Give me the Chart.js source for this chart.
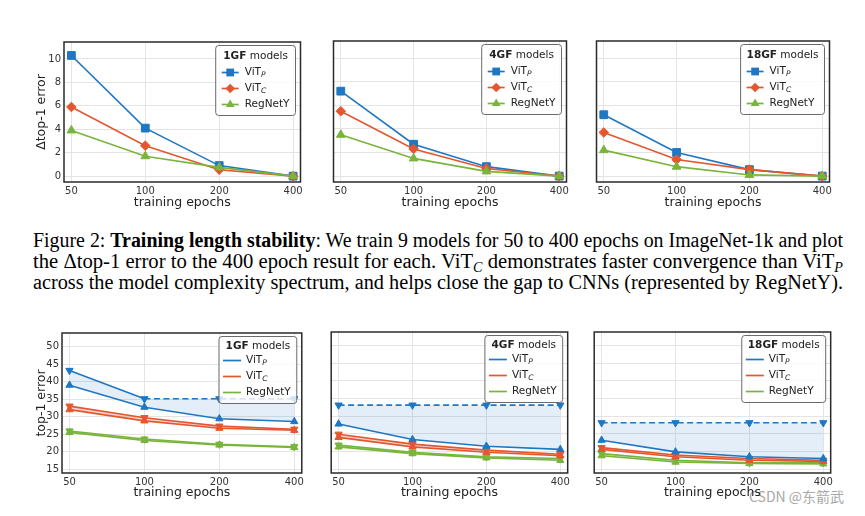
<!DOCTYPE html>
<html>
<head>
<meta charset="utf-8">
<script src="https://cdn.jsdelivr.net/npm/chart.js@4.4.0/dist/chart.umd.min.js"></script>
<style>
  html, body { margin: 0; padding: 0; background: #fff; }
  body { width: 865px; height: 516px; position: relative; overflow: hidden; }
  canvas { position: absolute; }
  .cap { position: absolute; left: 33px; font-family: 'Liberation Serif', 'Times New Roman', serif;
         font-size: 20.5px; line-height: 21px; color: #000; white-space: nowrap; transform-origin: 0 50%; }
  .cap .s { font-style: italic; font-size: 14px; position: relative; top: 4px; }
  #mark { position: absolute; left: 749px; top: 486px; font-family: 'Noto Sans CJK SC', 'DejaVu Sans', sans-serif;
          font-size: 14px; color: #a8a8a8; white-space: nowrap; }
</style>
</head>
<body>
<div class="cap" style="top:230px">Figure 2: <b>Training length stability</b>: We train 9 models for 50 to 400 epochs on ImageNet-1k and plot</div>
<div class="cap" style="top:251px">the Δtop-1 error to the 400 epoch result for each. ViT<span class="s">C</span> demonstrates faster convergence than ViT<span class="s">P</span></div>
<div class="cap" style="top:272px">across the model complexity spectrum, and helps close the gap to CNNs (represented by RegNetY).</div>
<div id="mark">CSDN @东箭武</div>
<script>
// ---- data ----
const epochs = ['50', '100', '200', '400'];
const deltaTicks = [0, 2, 4, 6, 8, 10];
const errTicks = [15, 20, 25, 30, 35, 40, 45, 50];

// top row: Δtop-1 error to the 400 epoch result
const d1gfVitP = [10.3, 4.1, 0.9, 0.0];
const d1gfVitC = [5.9, 2.6, 0.55, 0.0];
const d1gfRegNet = [3.9, 1.7, 0.75, 0.0];
const d4gfVitP = [7.2, 2.7, 0.8, 0.0];
const d4gfVitC = [5.5, 2.3, 0.65, 0.0];
const d4gfRegNet = [3.5, 1.5, 0.4, 0.0];
const d18gfVitP = [5.2, 2.0, 0.55, 0.0];
const d18gfVitC = [3.7, 1.4, 0.55, 0.0];
const d18gfRegNet = [2.2, 0.8, 0.1, 0.0];

// bottom row: top-1 error, upper / lower curves
const e1gfVitPHi = [43.2, 35.1, 35.1, 35.1];
const e1gfVitPLo = [39.0, 32.7, 29.4, 28.6];
const e1gfVitCHi = [33.0, 29.7, 27.3, 26.4];
const e1gfVitCLo = [32.0, 28.8, 26.7, 26.1];
const e1gfRegNetHi = [25.9, 23.6, 22.1, 21.4];
const e1gfRegNetLo = [25.5, 23.2, 21.9, 21.2];

const e4gfVitPHi = [33.15, 33.15, 33.15, 33.15];
const e4gfVitPLo = [27.8, 23.4, 21.5, 20.6];
const e4gfVitCHi = [24.9, 22.1, 20.4, 19.2];
const e4gfVitCLo = [24.0, 21.3, 19.8, 18.8];
const e4gfRegNetHi = [21.8, 19.8, 18.5, 18.0];
const e4gfRegNetLo = [21.3, 19.4, 18.2, 17.5];

const e18gfVitPHi = [28.15, 28.15, 28.15, 28.15];
const e18gfVitPLo = [23.2, 19.9, 18.5, 18.0];
const e18gfVitCHi = [21.1, 19.0, 18.0, 17.5];
const e18gfVitCLo = [20.6, 18.5, 17.5, 17.2];
const e18gfRegNetHi = [19.4, 17.5, 16.8, 16.8];
const e18gfRegNetLo = [18.8, 17.0, 16.6, 16.5];

// ---- drawing ----
const FAM = '"DejaVu Sans", sans-serif';
const COL = { vitP: '#1f77c4', vitC: '#e4572e', reg: '#79b43d' };
const FILL = { vitP: 'rgba(31,119,196,0.12)', vitC: 'rgba(228,87,46,0.25)', reg: 'rgba(121,180,61,0.35)' };

function pts(arr) { return arr.map((v, i) => ({ x: i, y: v })); }

function rrect(ctx, x, y, w, h, r) {
  ctx.beginPath();
  ctx.moveTo(x + r, y);
  ctx.lineTo(x + w - r, y); ctx.quadraticCurveTo(x + w, y, x + w, y + r);
  ctx.lineTo(x + w, y + h - r); ctx.quadraticCurveTo(x + w, y + h, x + w - r, y + h);
  ctx.lineTo(x + r, y + h); ctx.quadraticCurveTo(x, y + h, x, y + h - r);
  ctx.lineTo(x, y + r); ctx.quadraticCurveTo(x, y, x + r, y);
  ctx.closePath();
}

function marker(ctx, style, x, y, r) {
  ctx.beginPath();
  if (style === 'rect') {
    const s = r * Math.SQRT1_2;
    ctx.rect(x - s, y - s, 2 * s, 2 * s);
  } else if (style === 'rectRot') {
    ctx.moveTo(x, y - r); ctx.lineTo(x + r, y); ctx.lineTo(x, y + r); ctx.lineTo(x - r, y); ctx.closePath();
  } else {
    for (let k = 0; k < 3; k++) {
      const a = k * 2 * Math.PI / 3;
      const px = x + Math.sin(a) * r, py = y - Math.cos(a) * r;
      k ? ctx.lineTo(px, py) : ctx.moveTo(px, py);
    }
    ctx.closePath();
  }
  ctx.fill();
}

const boxLegend = {
  id: 'boxLegend',
  afterDraw(chart, args, o) {
    const ctx = chart.ctx, a = chart.chartArea;
    ctx.save();
    ctx.strokeStyle = '#2a2a2a'; ctx.lineWidth = 1.5;
    ctx.strokeRect(a.left, a.top, a.right - a.left, a.bottom - a.top);

    const fs = 10.5;
    ctx.font = `bold ${fs}px ${FAM}`;
    const wb = ctx.measureText(o.title).width;
    ctx.font = `${fs}px ${FAM}`;
    const wr = ctx.measureText(' models').width;
    let we = 0;
    o.entries.forEach(e => {
      ctx.font = `${fs}px ${FAM}`;
      let w = ctx.measureText(e.label).width;
      if (e.sub) { ctx.font = `italic ${fs * 0.72}px ${FAM}`; w += ctx.measureText(e.sub).width; }
      we = Math.max(we, w);
    });
    const W = Math.max(wb + wr + 12, o.textX + we + 6);
    const x0 = a.right - 5 - W, y0 = a.top + 3.5;
    rrect(ctx, x0, y0, W, o.height, 3);
    ctx.fillStyle = 'rgba(255,255,255,0.8)'; ctx.fill();
    ctx.strokeStyle = '#6a6a6a'; ctx.lineWidth = 1; ctx.stroke();

    ctx.textBaseline = 'middle'; ctx.textAlign = 'left'; ctx.fillStyle = '#222';
    const tx = x0 + (W - wb - wr) / 2, ty = y0 + o.titleY;
    ctx.font = `bold ${fs}px ${FAM}`; ctx.fillText(o.title, tx, ty);
    ctx.font = `${fs}px ${FAM}`; ctx.fillText(' models', tx + wb, ty);

    o.entries.forEach((e, i) => {
      const y = y0 + o.rowY[i];
      ctx.strokeStyle = e.color; ctx.lineWidth = 1.7;
      ctx.beginPath(); ctx.moveTo(x0 + o.lineX[0], y); ctx.lineTo(x0 + o.lineX[1], y); ctx.stroke();
      if (e.style) {
        ctx.fillStyle = e.color;
        marker(ctx, e.style, x0 + (o.lineX[0] + o.lineX[1]) / 2, y, e.r);
      }
      ctx.fillStyle = '#222';
      ctx.font = `${fs}px ${FAM}`;
      ctx.fillText(e.label, x0 + o.textX, y);
      if (e.sub) {
        const lw = ctx.measureText(e.label).width;
        ctx.font = `italic ${fs * 0.72}px ${FAM}`;
        ctx.fillText(e.sub, x0 + o.textX + lw, y + 3);
      }
    });
    ctx.restore();
  }
};

function makePanel(p) {
  const yW = p.showY ? p.left : 0;
  const padT = 8, padR = 4;
  const w = yW + (p.right - p.left) + padR;
  const h = padT + (p.bottom - p.top) + p.xH;
  const cv = document.createElement('canvas');
  cv.width = w; cv.height = h;
  cv.style.left = (p.left - yW) + 'px';
  cv.style.top = (p.top - padT) + 'px';
  cv.style.width = w + 'px'; cv.style.height = h + 'px';
  document.body.appendChild(cv);

  new Chart(cv, {
    type: 'line',
    data: { datasets: p.datasets },
    options: {
      responsive: false,
      animation: false,
      events: [],
      layout: { padding: { top: padT, right: padR, left: 0, bottom: 0 } },
      plugins: { legend: { display: false }, tooltip: { enabled: false }, boxLegend: p.legend },
      scales: {
        x: {
          type: 'linear', min: -0.1, max: 3.1,
          afterBuildTicks: s => { s.ticks = epochs.map((_, i) => ({ value: i })); },
          afterFit: s => { s.height = p.xH; },
          ticks: { callback: v => epochs[v], font: { family: FAM, size: 10 }, color: '#333',
                   padding: 3, maxRotation: 0, autoSkip: false },
          grid: { color: '#e4e4e4', drawTicks: false },
          border: { display: false },
          title: { display: true, text: 'training epochs', font: { family: FAM, size: 12.5 },
                   color: '#222', padding: 0 }
        },
        y: {
          type: 'linear', min: p.yMin, max: p.yMax,
          afterBuildTicks: s => { s.ticks = p.yTicks.map(v => ({ value: v })); },
          afterFit: s => { s.width = yW; },
          ticks: { display: p.showY, font: { family: FAM, size: 10 }, color: '#333', padding: 3 },
          grid: { color: '#e4e4e4', drawTicks: false },
          border: { display: false },
          title: { display: p.showY, text: p.yTitle, font: { family: FAM, size: 12.5 },
                   color: '#222', padding: { top: 34.5, bottom: 0 } }
        }
      }
    },
    plugins: [boxLegend]
  });
}

function topSets(vp, vc, rg) {
  const base = { borderWidth: 1.6, fill: false, pointBorderWidth: 1 };
  return [
    Object.assign({ data: pts(vp), borderColor: COL.vitP, pointBackgroundColor: COL.vitP,
      pointBorderColor: COL.vitP, pointStyle: 'rect', pointRadius: 5.5, order: 2 }, base),
    Object.assign({ data: pts(vc), borderColor: COL.vitC, pointBackgroundColor: COL.vitC,
      pointBorderColor: COL.vitC, pointStyle: 'rectRot', pointRadius: 4.8, order: 1 }, base),
    Object.assign({ data: pts(rg), borderColor: COL.reg, pointBackgroundColor: COL.reg,
      pointBorderColor: COL.reg, pointStyle: 'triangle', pointRadius: 5, order: 0 }, base)
  ];
}

function pairSets(hi, lo, key, dashFlat) {
  const c = COL[key];
  const hiSet = { data: pts(hi), borderColor: c, borderWidth: 1.6, fill: false,
    pointStyle: 'triangle', pointRotation: 180, pointRadius: 4.2,
    pointBackgroundColor: c, pointBorderColor: c, pointBorderWidth: 1 };
  if (dashFlat) {
    hiSet.segment = { borderDash: s => s.p0.parsed.y === s.p1.parsed.y ? [6, 3.5] : undefined };
  }
  const loSet = { data: pts(lo), borderColor: c, borderWidth: 1.6, fill: '-1', backgroundColor: FILL[key],
    pointStyle: 'triangle', pointRadius: 4.2,
    pointBackgroundColor: c, pointBorderColor: c, pointBorderWidth: 1 };
  return [hiSet, loSet];
}

function legendFor(gf, top) {
  const entries = [
    { label: 'ViT', sub: 'P', color: COL.vitP, style: top ? 'rect' : null, r: 5.5 },
    { label: 'ViT', sub: 'C', color: COL.vitC, style: top ? 'rectRot' : null, r: 4.8 },
    { label: 'RegNetY', color: COL.reg, style: top ? 'triangle' : null, r: 5 }
  ];
  return top
    ? { title: gf, entries, height: 70, titleY: 10.5, rowY: [27, 43, 59], lineX: [6, 23], textX: 29 }
    : { title: gf, entries, height: 67, titleY: 9.5, rowY: [24, 40, 56], lineX: [4, 22], textX: 27 };
}

const topX = [[64, 303], [327, 569], [590, 832]];
const botX = [[62, 303], [326, 569], [589, 832]];
const topData = [
  ['1GF', d1gfVitP, d1gfVitC, d1gfRegNet],
  ['4GF', d4gfVitP, d4gfVitC, d4gfRegNet],
  ['18GF', d18gfVitP, d18gfVitC, d18gfRegNet]
];
const botData = [
  ['1GF', e1gfVitPHi, e1gfVitPLo, e1gfVitCHi, e1gfVitCLo, e1gfRegNetHi, e1gfRegNetLo],
  ['4GF', e4gfVitPHi, e4gfVitPLo, e4gfVitCHi, e4gfVitCLo, e4gfRegNetHi, e4gfRegNetLo],
  ['18GF', e18gfVitPHi, e18gfVitPLo, e18gfVitCHi, e18gfVitCLo, e18gfRegNetHi, e18gfRegNetLo]
];

topData.forEach((d, i) => {
  makePanel({
    left: topX[i][0], right: topX[i][1], top: 41, bottom: 182, xH: 28,
    showY: i === 0, yMin: -0.5, yMax: 11.45, yTicks: deltaTicks, yTitle: 'Δtop-1 error',
    datasets: topSets(d[1], d[2], d[3]),
    legend: legendFor(d[0], true)
  });
});

botData.forEach((d, i) => {
  makePanel({
    left: botX[i][0], right: botX[i][1], top: 332, bottom: 473, xH: 27,
    showY: i === 0, yMin: 13.9, yMax: 53.9, yTicks: errTicks, yTitle: 'top-1 error',
    datasets: [].concat(pairSets(d[1], d[2], 'vitP', true), pairSets(d[3], d[4], 'vitC', false),
                        pairSets(d[5], d[6], 'reg', false)),
    legend: legendFor(d[0], false)
  });
});

function fitCaption() {
  document.querySelectorAll('.cap').forEach(el => {
    el.style.transform = 'none';
    const w = el.getBoundingClientRect().width;
    el.style.transform = 'scaleX(' + (810 / w) + ')';
  });
}
fitCaption();
if (document.fonts) document.fonts.ready.then(fitCaption);
</script>
</body>
</html>
